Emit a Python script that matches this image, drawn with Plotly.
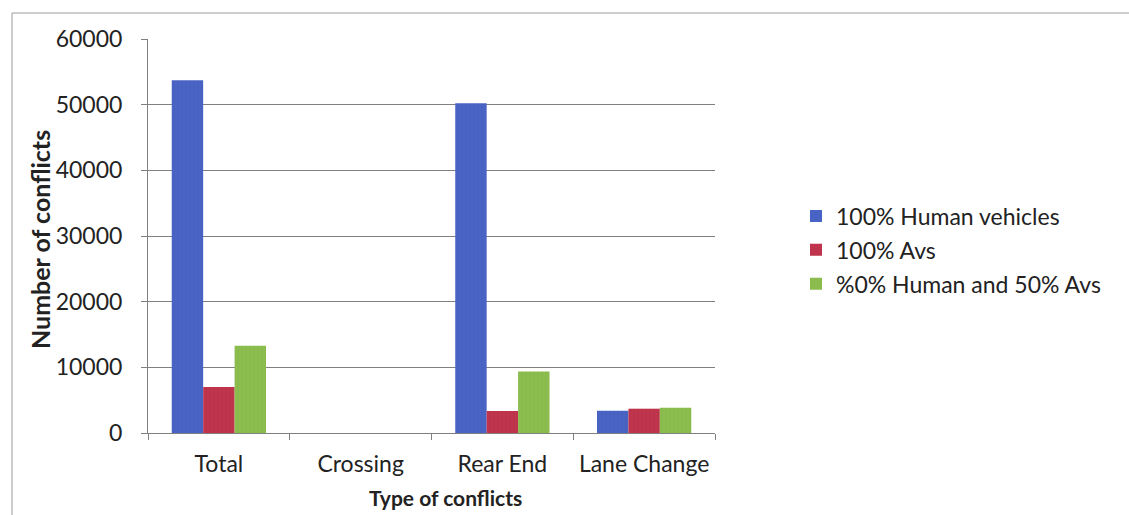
import plotly.graph_objects as go

categories = ["Total", "Crossing", "Rear End", "Lane Change"]
human = [53700, 0, 50200, 3400]
avs = [7000, 0, 3350, 3700]
mixed = [13300, 0, 9350, 3850]
series_names = ["100% Human vehicles", "100% Avs", "%0% Human and 50% Avs"]
colors = ["#4A64C6", "#C0344C", "#8CBD4E"]
stripe = ["#3A52AE", "#A82A40", "#78A83E"]
y_ticks = [0, 10000, 20000, 30000, 40000, 50000, 60000]

FONT = "Lato"
W, H = 1129, 515
L, R, T, B = 148, 715, 39, 433

def px_x(px):
    return (px - L) / (R - L)

def px_y(py):
    return (B - py) / (B - T)

fig = go.Figure()
for name, vals, c, s in zip(series_names, [human, avs, mixed], colors, stripe):
    fig.add_trace(go.Bar(
        x=categories, y=vals, name=name, legendgroup=name,
        marker=dict(color=c, line=dict(width=0),
                    pattern=dict(shape="|", fgcolor=s, size=4, solidity=0.15)),
    ))

fig.update_layout(
    width=W, height=H,
    margin=dict(l=L, r=W - R, t=T, b=H - B, autoexpand=False),
    paper_bgcolor="white", plot_bgcolor="white",
    barmode="group", bargap=0.335, bargroupgap=0,
    font=dict(family=FONT, size=23, color="#222222"),
    showlegend=True,
    legend=dict(x=px_x(796), y=px_y(250), xanchor="left", yanchor="middle",
                bgcolor="rgba(0,0,0,0)", borderwidth=0,
                font=dict(family=FONT, size=23, color="#222222"),
                traceorder="grouped", tracegroupgap=1),
    xaxis=dict(showline=True, linecolor="#808080", linewidth=1,
               ticks="outside", ticklen=6, tickcolor="#808080", tickson="boundaries",
               tickfont=dict(family=FONT, size=23, color="#222222"),
               ticklabelstandoff=10,
               showgrid=False, zeroline=False),
    yaxis=dict(range=[0, 60000], tickvals=y_ticks, ticktext=[str(v) for v in y_ticks],
               showline=True, linecolor="#808080", linewidth=1,
               ticks="outside", ticklen=6, tickcolor="#808080",
               showgrid=True, gridcolor="#808080", gridwidth=1, zeroline=False,
               tickfont=dict(family=FONT, size=23, color="#222222"),
               ticklabelstandoff=14),
    annotations=[
        dict(text="<b>Number of conflicts</b>", textangle=-90, xref="paper", yref="paper",
             x=px_x(40), y=px_y(240), xanchor="center", yanchor="middle", showarrow=False,
             font=dict(family=FONT, size=25, color="#222222")),
        dict(text="<b>Type of conflicts</b>", xref="paper", yref="paper",
             x=px_x(445), y=px_y(497), xanchor="center", yanchor="middle", showarrow=False,
             font=dict(family=FONT, size=21, color="#222222")),
    ],
    shapes=[
        dict(type="rect", xref="paper", yref="paper",
             x0=px_x(12), x1=px_x(1140), y0=px_y(530), y1=px_y(13),
             line=dict(color="#9a9a9a", width=1), fillcolor="rgba(0,0,0,0)", layer="below"),
    ],
)

fig.write_html("out.html")
